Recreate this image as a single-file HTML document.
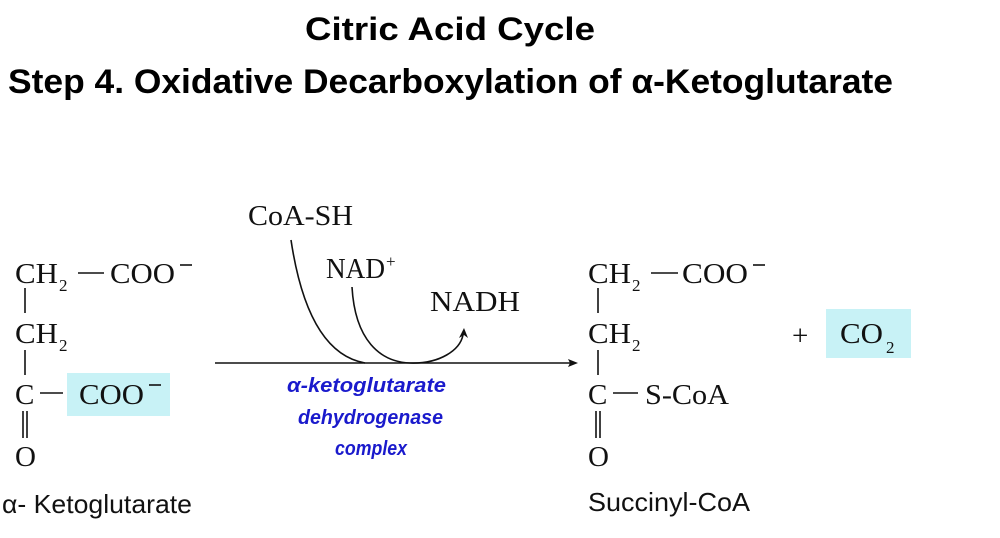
<!DOCTYPE html>
<html><head><meta charset="utf-8"><style>
html,body{margin:0;padding:0;background:#fff;width:1000px;height:538px;overflow:hidden}
svg{display:block}
.s{font-family:"Liberation Serif",serif;font-size:29px;fill:#111}
.sub{font-family:"Liberation Serif",serif;font-size:17px;fill:#111}
.h{font-family:"Liberation Sans",sans-serif;font-weight:bold;fill:#000}
.b{font-family:"Liberation Sans",sans-serif;font-weight:bold;font-style:italic;font-size:20px;fill:#1a1acc}
.l{font-family:"Liberation Sans",sans-serif;font-size:26px;fill:#111}
</style></head><body>
<svg width="1000" height="538" viewBox="0 0 1000 538">
<rect x="67" y="373" width="103" height="43" fill="#c8f2f6"/>
<rect x="826" y="309" width="85" height="49" fill="#c8f2f6"/>
<text class="h" x="305" y="40" font-size="32" textLength="290" lengthAdjust="spacingAndGlyphs">Citric Acid Cycle</text>
<text class="h" x="8" y="93" font-size="34" textLength="885" lengthAdjust="spacingAndGlyphs">Step 4. Oxidative Decarboxylation of  α-Ketoglutarate</text>

<g stroke="#111" stroke-width="1.6" fill="none">
<line x1="78" y1="273" x2="104" y2="273"/>
<line x1="25" y1="288" x2="25" y2="313"/>
<line x1="25" y1="350" x2="25" y2="375"/>
<line x1="40" y1="393" x2="63" y2="393"/>
<line x1="23" y1="411" x2="23" y2="438"/>
<line x1="27" y1="411" x2="27" y2="438"/>
<line x1="651" y1="273" x2="678" y2="273"/>
<line x1="598" y1="288" x2="598" y2="313"/>
<line x1="598" y1="350" x2="598" y2="375"/>
<line x1="613" y1="393" x2="638" y2="393"/>
<line x1="596" y1="411" x2="596" y2="438"/>
<line x1="600" y1="411" x2="600" y2="438"/>
<line x1="215" y1="363" x2="572" y2="363"/>
<path d="M291 240 C300 300 320 355 365 363"/>
<path d="M352 287 C355 340 380 362 410 363 C440 364 460 350 463 335"/>
<line x1="180" y1="265" x2="192" y2="265"/>
<line x1="149" y1="385" x2="161" y2="385"/>
<line x1="753" y1="265" x2="765" y2="265"/>
</g>
<polygon points="578,363 568,359 570,363 568,367" fill="#111"/>
<polygon points="464,328 459,338 464,335 468,338" fill="#111"/>

<text class="s" x="15" y="283" textLength="43" lengthAdjust="spacingAndGlyphs">CH</text><text class="sub" x="59" y="291">2</text>
<text class="s" x="110" y="283" textLength="65" lengthAdjust="spacingAndGlyphs">COO</text>
<text class="s" x="15" y="343" textLength="43" lengthAdjust="spacingAndGlyphs">CH</text><text class="sub" x="59" y="351">2</text>
<text class="s" x="15" y="404">C</text>
<text class="s" x="79" y="404" textLength="65" lengthAdjust="spacingAndGlyphs">COO</text>
<text class="s" x="15" y="466">O</text>
<text class="l" x="2" y="513" textLength="190" lengthAdjust="spacingAndGlyphs">α- Ketoglutarate</text>

<text class="s" x="248" y="225" textLength="105" lengthAdjust="spacingAndGlyphs">CoA-SH</text>
<text class="s" x="326" y="278" textLength="59" lengthAdjust="spacingAndGlyphs">NAD</text><text class="sub" x="386" y="267">+</text>
<text class="s" x="430" y="311" textLength="90" lengthAdjust="spacingAndGlyphs">NADH</text>
<text class="b" x="287" y="392" textLength="159" lengthAdjust="spacingAndGlyphs">α-ketoglutarate</text>
<text class="b" x="298" y="424" textLength="145" lengthAdjust="spacingAndGlyphs">dehydrogenase</text>
<text class="b" x="335" y="455" textLength="72" lengthAdjust="spacingAndGlyphs">complex</text>

<text class="s" x="588" y="283" textLength="43" lengthAdjust="spacingAndGlyphs">CH</text><text class="sub" x="632" y="291">2</text>
<text class="s" x="682" y="283" textLength="66" lengthAdjust="spacingAndGlyphs">COO</text>
<text class="s" x="588" y="343" textLength="43" lengthAdjust="spacingAndGlyphs">CH</text><text class="sub" x="632" y="351">2</text>
<text class="s" x="588" y="404">C</text>
<text class="s" x="645" y="404" textLength="84" lengthAdjust="spacingAndGlyphs">S-CoA</text>
<text class="s" x="588" y="466">O</text>
<text class="l" x="588" y="511" textLength="162" lengthAdjust="spacingAndGlyphs">Succinyl-CoA</text>
<text class="s" x="792" y="345">+</text>
<text class="s" x="840" y="343" textLength="43" lengthAdjust="spacingAndGlyphs">CO</text><text class="sub" x="886" y="353">2</text>
</svg>
</body></html>
